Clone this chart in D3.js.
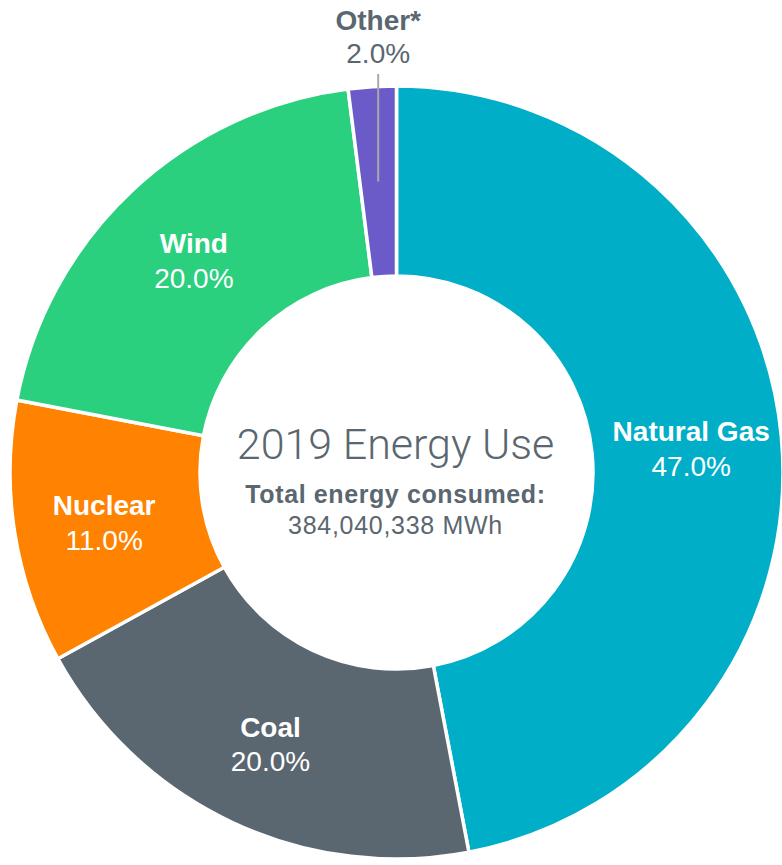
<!DOCTYPE html>
<html>
<head>
<meta charset="utf-8">
<script src="https://cdn.jsdelivr.net/npm/d3@7"></script>
<style>
  html, body { margin: 0; padding: 0; background: #ffffff; }
  svg { display: block; }
</style>
</head>
<body>
<svg id="chart" width="782" height="865"></svg>
<script>
const categories = ["Natural Gas", "Coal", "Nuclear", "Wind", "Other*"];
const values = [47.0, 20.0, 11.0, 20.0, 2.0];
const colors = ["#00AEC7", "#5B6770", "#FF8200", "#2BD07F", "#6A5BC8"];
const titleText = "2019 Energy Use";
const subtitleText = "Total energy consumed:";
const totalText = "384,040,338 MWh";

const W = 782, H = 865;
const cx = 396.5, cy = 472.5;
const outerR = 386.5, innerR = 196.5;
const labelR = 296;
const textGray = "#5B6770";

const svg = d3.select("#chart");
const g = svg.append("g").attr("transform", `translate(${cx},${cy})`);

const data = categories.map((c, i) => ({ name: c, value: values[i], color: colors[i] }));

const pie = d3.pie().value(d => d.value).sort(null).startAngle(0).endAngle(2 * Math.PI);
const arcs = pie(data);

const arc = d3.arc().innerRadius(innerR).outerRadius(outerR);
const labelArc = d3.arc().innerRadius(labelR).outerRadius(labelR);

g.selectAll("path.slice")
  .data(arcs)
  .join("path")
  .attr("class", "slice")
  .attr("d", arc)
  .attr("fill", d => d.data.color)
  .attr("stroke", "#ffffff")
  .attr("stroke-width", 3.5)
  .attr("stroke-linejoin", "miter");

const fmt = v => v.toFixed(1) + "%";
const inside = arcs.filter(d => d.data.value >= 5);
const outside = arcs.filter(d => d.data.value < 5);

const lab = g.selectAll("g.lab")
  .data(inside)
  .join("g")
  .attr("class", "lab")
  .attr("transform", d => `translate(${labelArc.centroid(d)})`);

lab.append("text")
  .attr("text-anchor", "middle")
  .attr("y", -3.5)
  .attr("fill", "#ffffff")
  .style("font-family", "'Liberation Sans', Arial, sans-serif")
  .style("font-weight", "bold")
  .style("font-size", "28px")
  .text(d => d.data.name);

lab.append("text")
  .attr("text-anchor", "middle")
  .attr("y", 31)
  .attr("fill", "#ffffff")
  .style("font-family", "'Liberation Sans', Arial, sans-serif")
  .style("font-size", "28px")
  .text(d => fmt(d.data.value));

// Outside label(s) with vertical leader line
const midR = (innerR + outerR) / 2;
const out = g.selectAll("g.outlab")
  .data(outside)
  .join("g")
  .attr("class", "outlab");

out.each(function(d) {
  const a = (d.startAngle + d.endAngle) / 2;
  const px = Math.sin(a) * midR;
  const py = -Math.cos(a) * midR;
  const topY = -cy + 74;
  const sel = d3.select(this);
  sel.append("line")
    .attr("x1", px).attr("x2", px)
    .attr("y1", py).attr("y2", topY)
    .attr("stroke", "#A9A9A9")
    .attr("stroke-width", 2);
  sel.append("text")
    .attr("x", px).attr("y", -cy + 29.5)
    .attr("text-anchor", "middle")
    .attr("fill", textGray)
    .style("font-family", "'Liberation Sans', Arial, sans-serif")
    .style("font-weight", "bold")
    .style("font-size", "28px")
    .text(d.data.name);
  sel.append("text")
    .attr("x", px).attr("y", -cy + 63)
    .attr("text-anchor", "middle")
    .attr("fill", textGray)
    .style("font-family", "'Liberation Sans', Arial, sans-serif")
    .style("font-size", "28px")
    .text(fmt(d.data.value));
});

// Center text
const center = svg.append("g").attr("transform", `translate(${cx - 1},0)`);
center.append("text")
  .attr("y", 459)
  .attr("text-anchor", "middle")
  .attr("fill", textGray)
  .style("font-family", "Roboto, 'Open Sans', sans-serif")
  .style("font-weight", "300")
  .style("font-size", "43px")
  .text(titleText);
center.append("text")
  .attr("y", 503)
  .attr("text-anchor", "middle")
  .attr("fill", textGray)
  .style("font-family", "'Liberation Sans', Arial, sans-serif")
  .style("font-weight", "bold")
  .style("font-size", "25px")
  .style("letter-spacing", "0.6px")
  .text(subtitleText);
center.append("text")
  .attr("y", 534)
  .attr("text-anchor", "middle")
  .attr("fill", textGray)
  .style("font-family", "'Liberation Sans', Arial, sans-serif")
  .style("font-size", "25px")
  .style("letter-spacing", "0.7px")
  .text(totalText);
</script>
</body>
</html>
